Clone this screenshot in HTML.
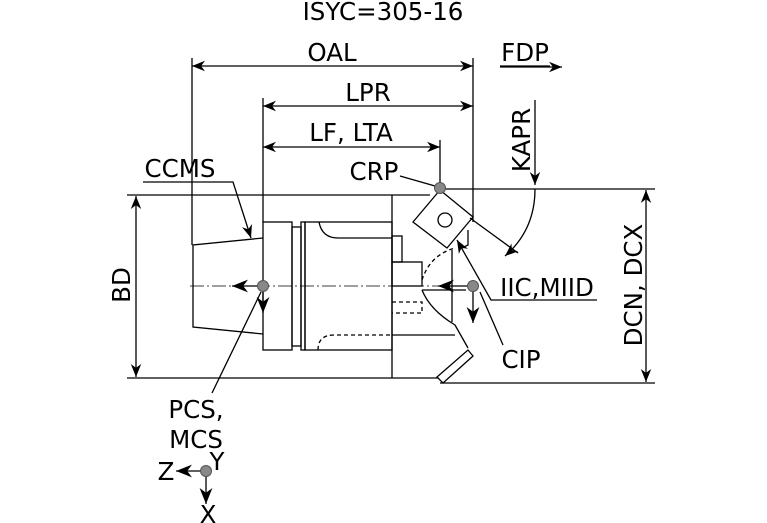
<!DOCTYPE html>
<html><head><style>body{margin:0;background:#fff}svg{display:block}text{font-family:"DejaVu Sans","Liberation Sans",sans-serif;fill:#000}</style></head><body>
<svg width="767" height="523" viewBox="0 0 767 523" xmlns="http://www.w3.org/2000/svg">
<defs><marker id="a" viewBox="0 0 10 10" refX="10" refY="5" markerWidth="13" markerHeight="13" markerUnits="userSpaceOnUse" orient="auto-start-reverse"><path d="M0,1 L10,5 L0,9 L3,5z" fill="#000"/></marker>
<marker id="b" viewBox="0 0 10 10" refX="10" refY="5" markerWidth="16" markerHeight="16" markerUnits="userSpaceOnUse" orient="auto-start-reverse"><path d="M0,1 L10,5 L0,9 L3,5z" fill="#000"/></marker></defs>
<g font-size="24.5" text-anchor="middle">
<text x="383" y="20">ISYC=305-16</text>
<text x="332" y="61">OAL</text>
<text x="368" y="101">LPR</text>
<text x="351" y="141">LF, LTA</text>
<text x="525" y="61">FDP</text>
<text x="180" y="177">CCMS</text>
<text x="374" y="180">CRP</text>
<text x="547" y="296">IIC,MIID</text>
<text x="521" y="368">CIP</text>
<text x="196" y="418">PCS,</text>
<text x="196" y="448">MCS</text>
<text x="166" y="480">Z</text>
<text x="217" y="470">Y</text>
<text x="208" y="523">X</text>
<text transform="translate(530,140) rotate(-90)">KAPR</text>
<text transform="translate(130,285) rotate(-90)">BD</text>
<text transform="translate(642,285) rotate(-90)">DCN, DCX</text>
</g>
<g stroke="#000" stroke-width="1.3" fill="none">
<line x1="500" y1="66" x2="550" y2="66"/>
<line x1="500" y1="67" x2="562" y2="67" marker-end="url(#a)"/>
<line x1="192" y1="58" x2="192" y2="245"/>
<line x1="263" y1="98" x2="263" y2="222"/>
<line x1="440" y1="140" x2="440" y2="183"/>
<line x1="473" y1="58" x2="473" y2="222"/>
<line x1="192" y1="66" x2="473" y2="66" marker-start="url(#a)" marker-end="url(#a)"/>
<line x1="263" y1="106" x2="473" y2="106" marker-start="url(#a)" marker-end="url(#a)"/>
<line x1="263" y1="147" x2="440" y2="147" marker-start="url(#a)" marker-end="url(#a)"/>
<line x1="127" y1="195" x2="430" y2="195"/>
<line x1="440" y1="189" x2="655" y2="189"/>
<line x1="127" y1="378" x2="443" y2="378"/>
<line x1="440" y1="383" x2="655" y2="383"/>
<line x1="136" y1="196" x2="136" y2="377" marker-start="url(#a)" marker-end="url(#a)"/>
<line x1="646" y1="190" x2="646" y2="382" marker-start="url(#a)" marker-end="url(#a)"/>
<path d="M263,238 L193,245 L193,327 L263,334"/>
<rect x="263" y="222" width="29" height="128"/>
<rect x="292" y="227" width="9" height="119"/>
<rect x="301" y="222" width="4" height="128"/>
<rect x="305" y="222" width="87" height="128"/>
<path d="M319,222 Q322,238 338,238 L392,238"/>
<path d="M318,350 Q318,335 334,335 L392,335" stroke-dasharray="4,3"/>
<line x1="392" y1="195" x2="392" y2="378"/>
<rect x="392" y="236" width="10" height="26"/>
<rect x="392" y="262" width="30" height="24"/>
<path d="M392,302 L422,302 L422,313 L392,313" stroke-dasharray="4,3"/>
<path d="M422,280 Q430,255 455,248" stroke-dasharray="4,3"/>
<path d="M422,290 Q430,310 455,325 L468,348"/>
<path d="M452,250 L452,322 M392,335 L455,335"/>
<path d="M468,230 L468,245 L462,248"/>
<line x1="422" y1="290" x2="466" y2="290"/>
<polygon points="437,377 468,350 473,356 443,383" fill="#fff"/>
<polygon points="413,222 440,190 473,217 447,248" fill="#fff"/>
<circle cx="445" cy="220" r="7"/>
<line x1="190" y1="286" x2="476" y2="286" stroke-dasharray="14,3,2,3" stroke-width="0.8"/>
<line x1="258" y1="286" x2="232" y2="286" marker-end="url(#b)"/>
<line x1="263" y1="291" x2="263" y2="313" marker-end="url(#b)"/>
<line x1="468" y1="286" x2="438" y2="286" marker-end="url(#b)"/>
<line x1="473" y1="291" x2="473" y2="323" marker-end="url(#b)"/>
<line x1="201" y1="471" x2="176" y2="471" marker-end="url(#b)"/>
<line x1="206" y1="476" x2="206" y2="504" marker-end="url(#b)"/>
<path d="M143,182 L233,182 L251,238" marker-end="url(#a)"/>
<line x1="400" y1="176" x2="435" y2="186"/>
<path d="M597,300 L491,300 L457,240" marker-end="url(#a)"/>
<line x1="503" y1="345" x2="480" y2="292"/>
<line x1="212" y1="393" x2="261" y2="292"/>
<line x1="470" y1="218" x2="518" y2="253"/>
<line x1="535" y1="100" x2="535" y2="185" marker-end="url(#a)"/>
<path d="M535,189 Q535,230 505,256" marker-end="url(#a)"/>
</g>
<g fill="#888" stroke="#555" stroke-width="1">
<circle cx="263" cy="286" r="5.5"/><circle cx="473" cy="286" r="5.5"/><circle cx="440" cy="188" r="5.5"/><circle cx="206" cy="471" r="5.5"/>
</g>
</svg>
</body></html>
